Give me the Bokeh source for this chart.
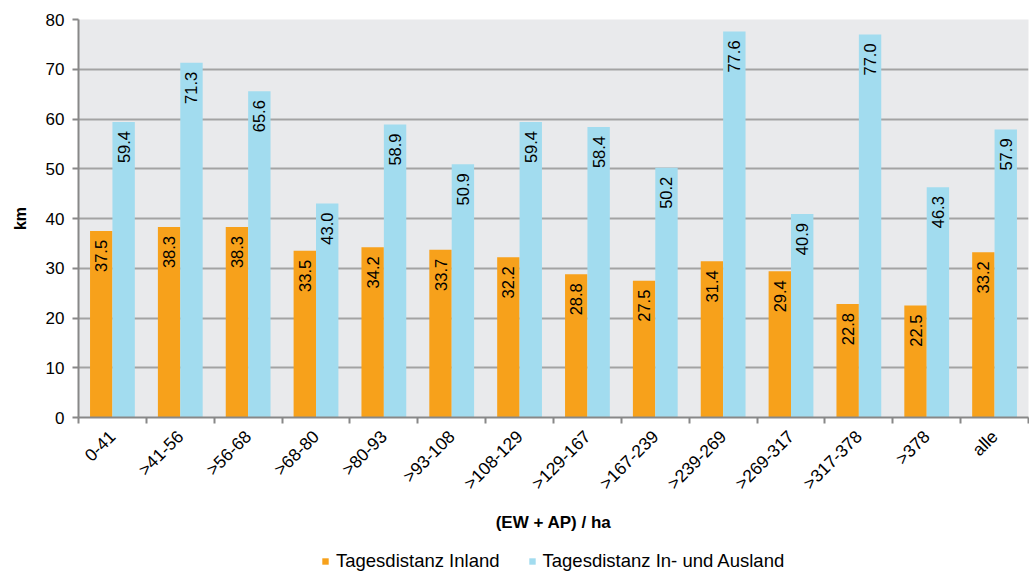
import math
from bokeh.plotting import figure
from bokeh.layouts import column
from bokeh.models import ColumnDataSource, FixedTicker, Range1d, Legend, LegendItem
from bokeh.core.properties import value
from bokeh.embed import file_html
from bokeh.resources import INLINE

categories = ["0-41", ">41-56", ">56-68", ">68-80", ">80-93", ">93-108", ">108-129",
              ">129-167", ">167-239", ">239-269", ">269-317", ">317-378", ">378", "alle"]
inland = [37.5, 38.3, 38.3, 33.5, 34.2, 33.7, 32.2, 28.8, 27.5, 31.4, 29.4, 22.8, 22.5, 33.2]
total = [59.4, 71.3, 65.6, 43.0, 58.9, 50.9, 59.4, 58.4, 50.2, 77.6, 40.9, 77.0, 46.3, 57.9]
series_names = ["Tagesdistanz Inland", "Tagesdistanz In- und Ausland"]
y_ticks = [0, 10, 20, 30, 40, 50, 60, 70, 80]

ORANGE = "#F7A11B"
BLUE = "#A2DCEF"
FONT = "Liberation Sans"

n = len(categories)
centers = [i + 0.5 for i in range(n)]
bw = 0.33
src = ColumnDataSource(dict(
    xc=centers,
    x1=[c - bw / 2 for c in centers],
    x2=[c + bw / 2 for c in centers],
    inland=inland,
    total=total,
    lab1=[f"{v:.1f}" for v in inland],
    lab2=[f"{v:.1f}" for v in total],
))

p = figure(width=1029, height=536, output_backend="svg", toolbar_location=None,
           x_range=Range1d(0, n), y_range=Range1d(0, 80),
           min_border_left=78, min_border_top=19, min_border_right=1, min_border_bottom=119)
p.background_fill_color = "#E9EAEC"
p.border_fill_color = "white"
p.outline_line_color = None

r1 = p.vbar(x="x1", top="inland", width=bw, source=src, fill_color=ORANGE, line_color=None)
r2 = p.vbar(x="x2", top="total", width=bw, source=src, fill_color=BLUE, line_color=None)

for xcol, ycol, lcol in [("x1", "inland", "lab1"), ("x2", "total", "lab2")]:
    p.text(x=xcol, y=ycol, text=lcol, source=src, angle=math.pi / 2,
           text_align="right", text_baseline="middle", y_offset=9,
           text_font=value(FONT), text_font_size="16.5px", text_color="#000000")

# axes
p.xaxis.ticker = FixedTicker(ticks=centers, minor_ticks=list(range(n + 1)))
p.xaxis.major_label_overrides = {c: cat for c, cat in zip(centers, categories)}
p.xaxis.major_tick_line_color = None
p.xaxis.major_tick_out = 0
p.xaxis.minor_tick_line_color = "#888888"
p.xaxis.minor_tick_in = 0
p.xaxis.minor_tick_out = 6
p.xaxis.minor_tick_line_width = 2
p.xaxis.axis_line_color = "#888888"
p.xaxis.axis_line_width = 2
p.xaxis.major_label_orientation = math.pi / 4
p.xaxis.major_label_standoff = 10
p.xaxis.major_label_text_font = FONT
p.xaxis.major_label_text_font_size = "17.5px"
p.xaxis.major_label_text_color = "#000000"
p.xaxis.axis_label = "(EW + AP) / ha"
p.xaxis.axis_label_text_font = FONT
p.xaxis.axis_label_text_font_size = "17px"
p.xaxis.axis_label_text_font_style = "bold"
p.xaxis.axis_label_text_color = "#000000"
p.xaxis.axis_label_standoff = 10

p.yaxis.ticker = FixedTicker(ticks=y_ticks)
p.yaxis.minor_tick_line_color = None
p.yaxis.major_tick_in = 0
p.yaxis.major_tick_out = 6
p.yaxis.major_tick_line_color = "#888888"
p.yaxis.major_tick_line_width = 2
p.yaxis.axis_line_color = "#888888"
p.yaxis.axis_line_width = 2
p.yaxis.major_label_standoff = 8
p.yaxis.major_label_text_font = FONT
p.yaxis.major_label_text_font_size = "17px"
p.yaxis.major_label_text_color = "#000000"
p.yaxis.axis_label = "km"
p.yaxis.axis_label_text_font = FONT
p.yaxis.axis_label_text_font_size = "16px"
p.yaxis.axis_label_text_font_style = "bold"
p.yaxis.axis_label_text_color = "#000000"
p.yaxis.axis_label_standoff = 14

p.xgrid.grid_line_color = None
p.ygrid.grid_line_color = "#A3A3A3"
p.ygrid.grid_line_width = 2
p.ygrid.ticker = FixedTicker(ticks=y_ticks)

# legend strip below the chart (its renderers use the same data, kept out of view)
lf = figure(width=1029, height=36, output_backend="svg", toolbar_location=None,
            x_range=Range1d(1000, 1001), y_range=Range1d(1000, 1001),
            min_border_left=0, min_border_right=0, min_border_top=0, min_border_bottom=0)
lf.axis.visible = False
lf.grid.visible = False
lf.outline_line_color = None
lf.background_fill_color = "white"
l1 = lf.vbar(x="x1", top="inland", width=bw, source=src, fill_color=ORANGE, line_color=None)
l2 = lf.vbar(x="x2", top="total", width=bw, source=src, fill_color=BLUE, line_color=None)

legend = Legend(items=[LegendItem(label=series_names[0], renderers=[l1]),
                       LegendItem(label=series_names[1], renderers=[l2])],
                orientation="horizontal", location=(243, 0))
legend.label_text_font = FONT
legend.label_text_font_size = "18.5px"
legend.label_text_color = "#000000"
legend.glyph_width = 8
legend.glyph_height = 8
legend.label_standoff = 7
legend.spacing = 28
legend.padding = 0
legend.margin = 0
legend.border_line_color = None
legend.background_fill_alpha = 0
lf.add_layout(legend, "center")

page = column(p, lf, spacing=0)
open("out.html", "w").write(file_html(page, INLINE))
